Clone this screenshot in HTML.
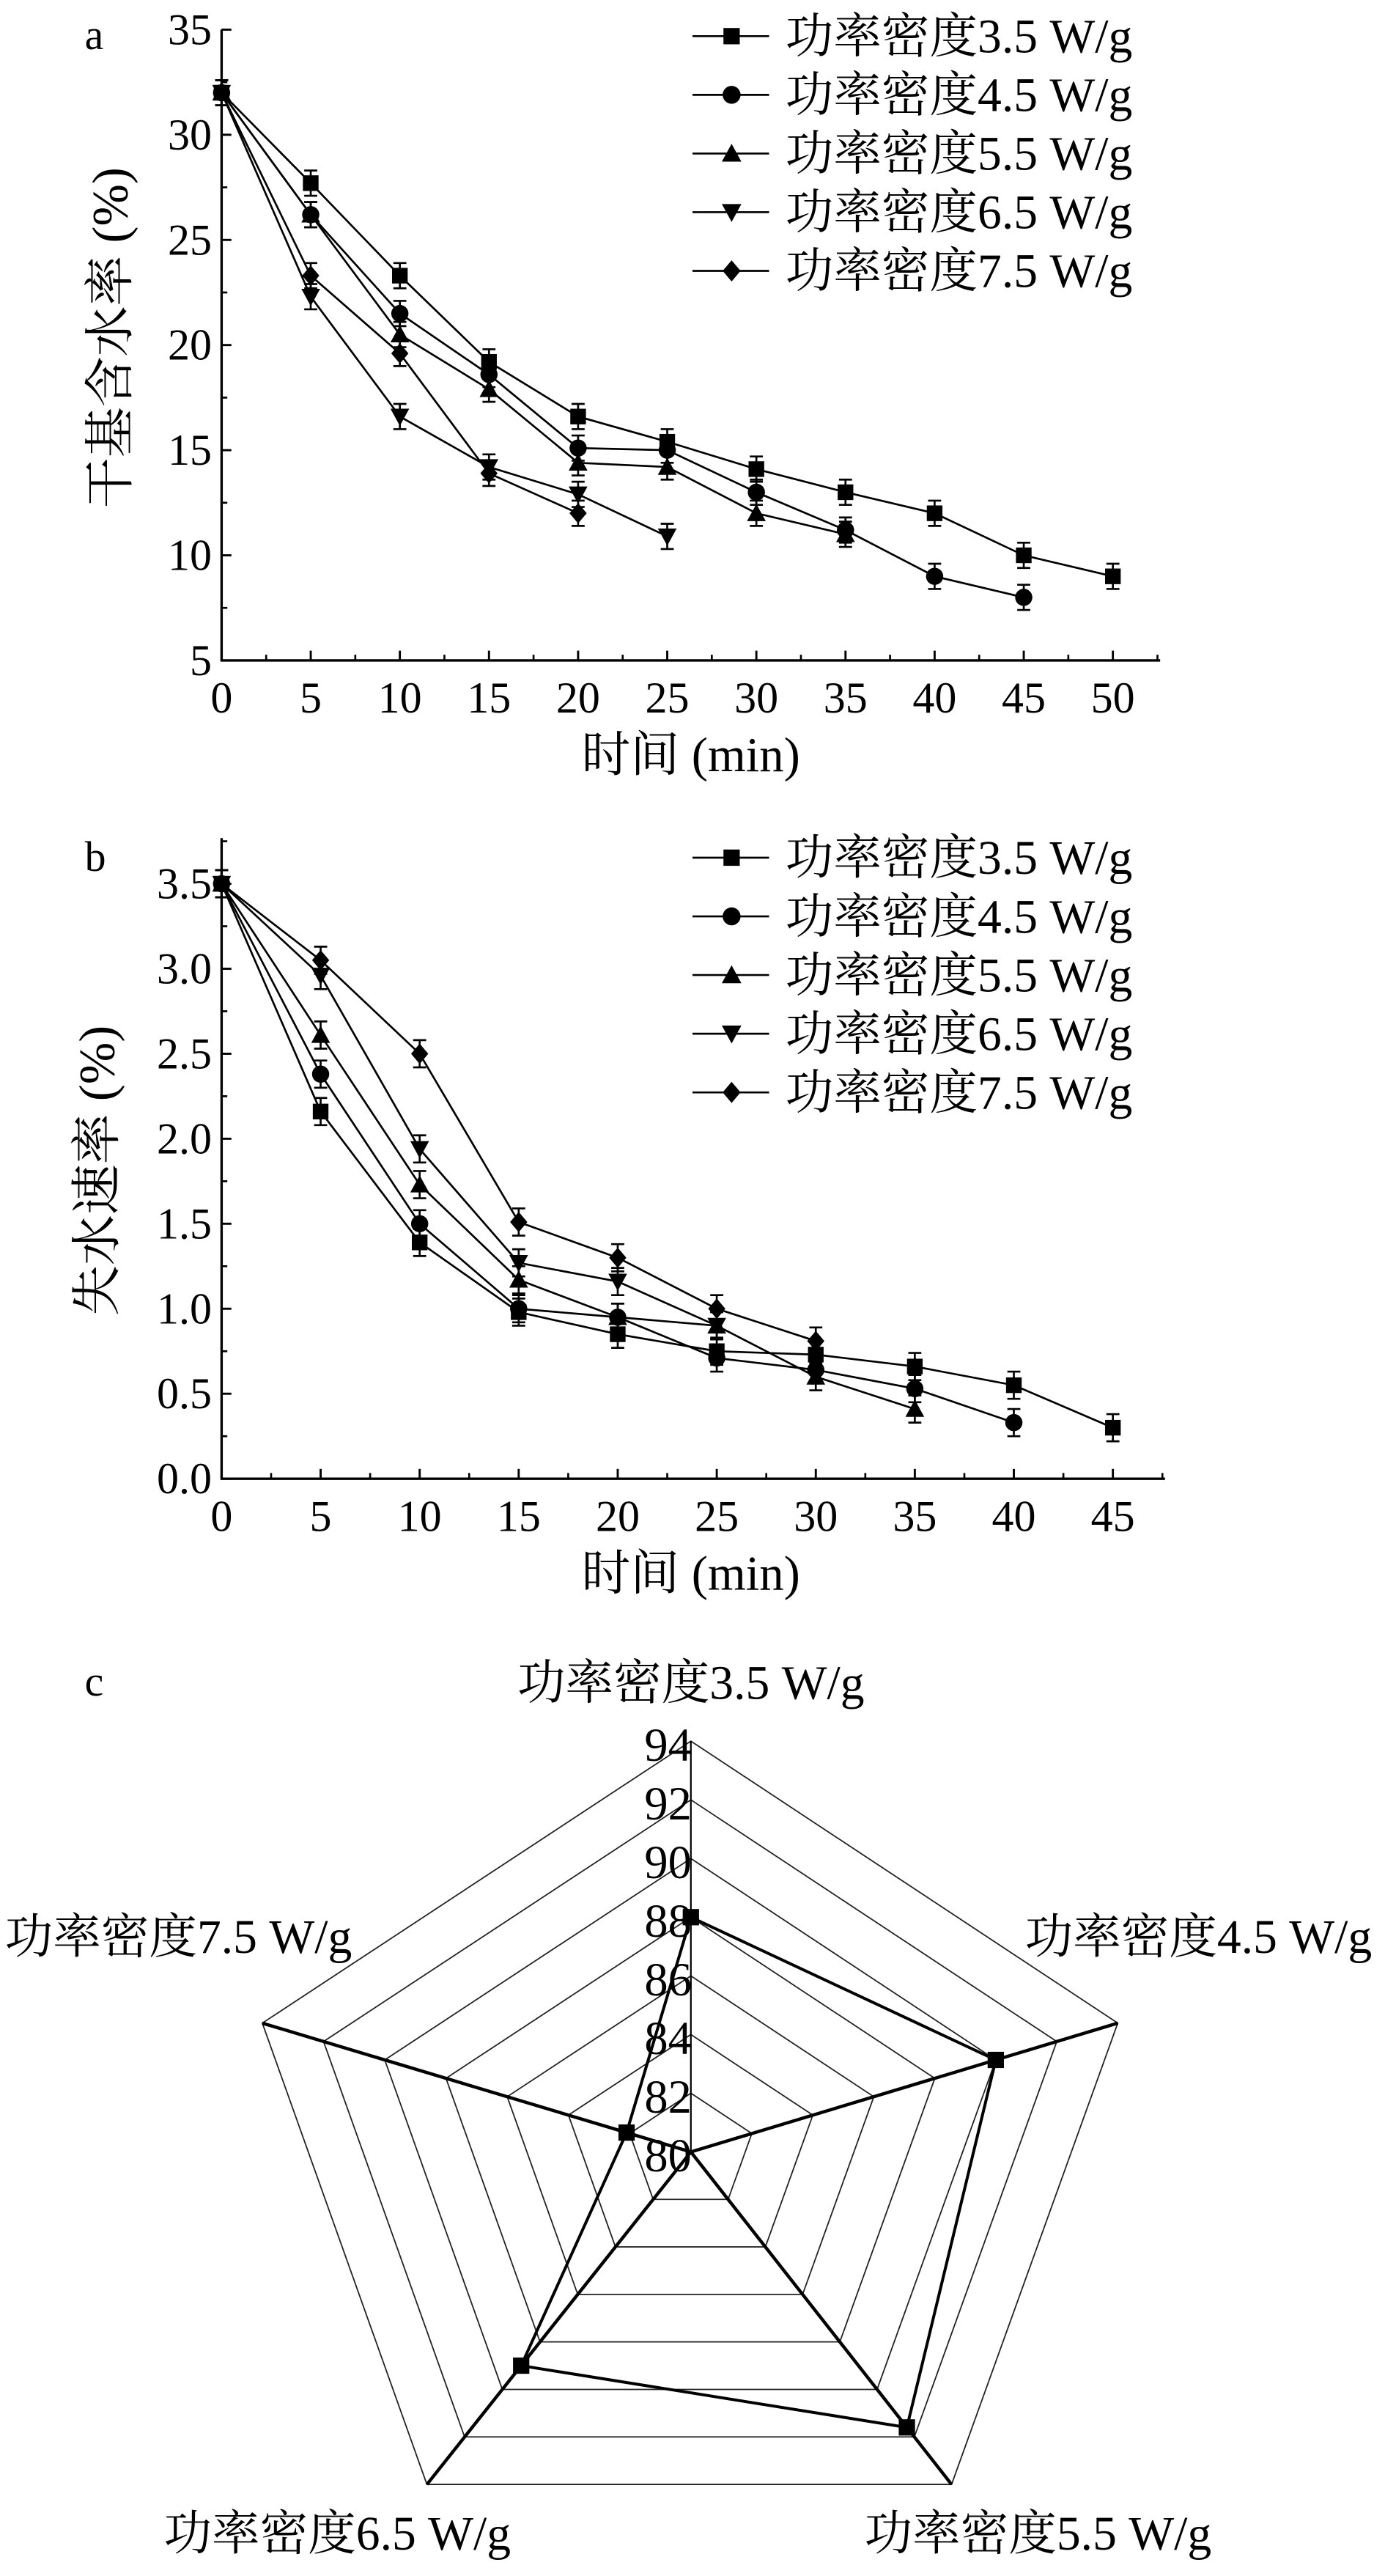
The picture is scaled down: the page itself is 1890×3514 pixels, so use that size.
<!DOCTYPE html>
<html><head><meta charset="utf-8"><style>
html,body{margin:0;padding:0;background:#fff}
svg{display:block}
text{font-family:"Liberation Serif","Noto Serif CJK SC","Noto Sans CJK SC",serif;fill:#000}
</style></head><body>
<svg id="fig" xmlns="http://www.w3.org/2000/svg" width="1890" height="3514" viewBox="0 0 850 1580">
<g id="ca"></g>
<g id="cb"></g>
<g id="cc"></g>
</svg>
<script>
const seriesNames = ["功率密度3.5 W/g","功率密度4.5 W/g","功率密度5.5 W/g","功率密度6.5 W/g","功率密度7.5 W/g"];
const markerTypes = ["square","circle","triangle","tridown","diamond"];
// chart a: moisture content vs time
const aTimes = [0,5,10,15,20,25,30,35,40,45,50];
const aS35 = [32,27.7,23.3,19.2,16.6,15.4,14.1,13.0,12.0,10.0,9.0];
const aS45 = [32,26.2,21.5,18.6,15.1,15.0,13.0,11.2,9.0,8.0];
const aS55 = [32,26.2,20.5,17.9,14.4,14.2,12.0,11.0];
const aS65 = [32,22.3,16.6,14.2,12.9,10.9];
const aS75 = [32,23.3,19.6,13.9,12.0];
const aErr = 0.6;
const aXTicks = [0,5,10,15,20,25,30,35,40,45,50];
const aYTicks = [5,10,15,20,25,30,35];
// chart b: water loss rate
const bTimes = [0,5,10,15,20,25,30,35,40,45];
const bS35 = [3.5,2.16,1.39,0.98,0.85,0.75,0.73,0.66,0.55,0.30];
const bS45 = [3.5,2.38,1.50,1.00,0.95,0.71,0.64,0.53,0.33];
const bS55 = [3.5,2.61,1.73,1.17,0.95,0.90,0.60,0.41];
const bS65 = [3.5,2.96,1.94,1.27,1.16,0.90];
const bS75 = [3.5,3.05,2.50,1.51,1.30,1.00,0.81];
const bErr = 0.08;
const bXTicks = [0,5,10,15,20,25,30,35,40,45];
const bYTicks = [0.0,0.5,1.0,1.5,2.0,2.5,3.0,3.5];
// chart c: radar
const cValues = [88,90,91.6,89,82.1];
const cRingTicks = [80,82,84,86,88,90,92,94];

const NS="http://www.w3.org/2000/svg";
function el(parent,tag,attrs,txt){const e=document.createElementNS(NS,tag);for(const k in attrs)e.setAttribute(k,attrs[k]);if(txt!==undefined)e.textContent=txt;parent.appendChild(e);return e;}

function marker(g,type,x,y,s){
  let e;
  if(type==="square") e=el(g,"rect",{x:x-s,y:y-s,width:2*s,height:2*s,fill:"#000"});
  else if(type==="circle") e=el(g,"circle",{cx:x,cy:y,r:s*1.1,fill:"#000"});
  else if(type==="triangle") e=el(g,"polygon",{points:`${x},${y-s*1.2} ${x-s*1.2},${y+s} ${x+s*1.2},${y+s}`,fill:"#000"});
  else if(type==="tridown") e=el(g,"polygon",{points:`${x},${y+s*1.2} ${x-s*1.2},${y-s} ${x+s*1.2},${y-s}`,fill:"#000"});
  else e=el(g,"polygon",{points:`${x},${y-s*1.3} ${x+s*1.1},${y} ${x},${y+s*1.3} ${x-s*1.1},${y}`,fill:"#000"});
  return e;
}

function lineChart(g,cfg){
  const {xs,ys,xT,yT,xMinor,yMinor,yTop,xEnd,series,times,err,legendY,panel,ytitle,titleX,fmt}=cfg;
  const ax=el(g,"path",{d:`M${xs(0)},${yTop} L${xs(0)},${ys(yT[0])} L${xEnd},${ys(yT[0])}`,fill:"none",stroke:"#000","stroke-width":1.5});
  
  
  xT.forEach(v=>{
    el(g,"line",{x1:xs(v),y1:ys(yT[0]),x2:xs(v),y2:ys(yT[0])-6,stroke:"#000","stroke-width":1.3});
    const t=el(g,"text",{x:xs(v),y:ys(yT[0])+32,"font-size":27,"text-anchor":"middle"},v);
    
    
  });
  xMinor.forEach(v=>el(g,"line",{x1:xs(v),y1:ys(yT[0]),x2:xs(v),y2:ys(yT[0])-3.5,stroke:"#000","stroke-width":1.2}));
  yT.forEach(v=>{
    el(g,"line",{x1:xs(0),y1:ys(v),x2:xs(0)+6,y2:ys(v),stroke:"#000","stroke-width":1.3});
    const t=el(g,"text",{x:xs(0)-6,y:ys(v)+9,"font-size":27,"text-anchor":"end"},fmt(v));
    
    
  });
  yMinor.forEach(v=>el(g,"line",{x1:xs(0),y1:ys(v),x2:xs(0)+3.5,y2:ys(v),stroke:"#000","stroke-width":1.2}));
  series.forEach((vals,i)=>{
    const sg=el(g,"g",{});
    
    
    el(sg,"polyline",{points:vals.map((v,j)=>`${xs(times[j])},${ys(v)}`).join(" "),fill:"none",stroke:"#000","stroke-width":1.2});
    vals.forEach((v,j)=>{
      const x=xs(times[j]),y1=ys(v+err),y2=ys(v-err);
      el(sg,"path",{d:`M${x},${y1} L${x},${y2} M${x-4},${y1} L${x+4},${y1} M${x-4},${y2} L${x+4},${y2}`,stroke:"#000","stroke-width":1.2,fill:"none"});
      const m=marker(sg,markerTypes[i],x,ys(v),4.8);
      
      
    });
  });
  seriesNames.forEach((n,i)=>{
    const lg=el(g,"g",{});
    
    
    const y=legendY+i*36;
    el(lg,"line",{x1:425,y1:y,x2:472,y2:y,stroke:"#000","stroke-width":1.2});
    marker(lg,markerTypes[i],449,y,5);
    el(lg,"text",{x:482,y:y+10,"font-size":29.5},n);
  });
  const p=el(g,"text",{x:52,y:legendY+8,"font-size":26},panel);
  
  
  const yt=el(g,"text",{x:0,y:0,"font-size":31,"text-anchor":"middle",transform:`translate(${titleX},${ytitle}) rotate(-90)`},cfg.yLabel);
  
  
  const xt=el(g,"text",{x:424,y:ys(yT[0])+68,"font-size":30,"text-anchor":"middle"},"时间 (min)");
  
  
}

const xa=v=>136+v*(547/50), ya=v=>405-(v-5)*(387/30);
lineChart(document.getElementById("ca"),{xs:xa,ys:ya,xT:aXTicks,yT:aYTicks,
 xMinor:[2.5,7.5,12.5,17.5,22.5,27.5,32.5,37.5,42.5,47.5,52.5],yMinor:[7.5,12.5,17.5,22.5,27.5,32.5],
 yTop:18,xEnd:712,series:[aS35,aS45,aS55,aS65,aS75],times:aTimes,err:aErr,legendY:22,panel:"a",
 ytitle:207,titleX:78,yLabel:"干基含水率 (%)",fmt:v=>v});
const xb=v=>136+v*(547/45), yb=v=>907-v*(365/3.5);
lineChart(document.getElementById("cb"),{xs:xb,ys:yb,xT:bXTicks,yT:bYTicks,
 xMinor:[2.5,7.5,12.5,17.5,22.5,27.5,32.5,37.5,42.5,47.5],yMinor:[0.25,0.75,1.25,1.75,2.25,2.75,3.25,3.75],
 yTop:514,xEnd:715,series:[bS35,bS45,bS55,bS65,bS75],times:bTimes,err:bErr,legendY:526,panel:"b",
 ytitle:718,titleX:70,yLabel:"失水速率 (%)",fmt:v=>v.toFixed(1)});

(function(){
  const g=document.getElementById("cc");
  const C=[424,1320];
  const V=[[424,1068],[686,1241],[584,1524],[262,1524],[161,1241]];
  const lo=cRingTicks[0],hi=cRingTicks[cRingTicks.length-1];
  const pt=(i,v)=>{const f=(v-lo)/(hi-lo);return [C[0]+(V[i][0]-C[0])*f,C[1]+(V[i][1]-C[1])*f];};
  cRingTicks.slice(1).forEach(t=>{
    const r=el(g,"polygon",{points:V.map((_,i)=>pt(i,t).join(",")).join(" "),fill:"none",stroke:"#222","stroke-width":0.8});
    
    
  });
  V.forEach((v,i)=>{
    const s=el(g,"line",{x1:C[0],y1:C[1],x2:v[0],y2:v[1],stroke:"#000","stroke-width":i===0?1:2});
    
    
  });
  cRingTicks.forEach(t=>{
    const y=pt(0,t)[1];
    const tl=el(g,"text",{x:410,y:y+12,"font-size":29,"text-anchor":"middle"},t);
    
    
  });
  const pts=cValues.map((v,i)=>pt(i,v));
  const poly=el(g,"polygon",{points:pts.map(p=>p.join(",")).join(" "),fill:"none",stroke:"#000","stroke-width":1.8});
  
  
  pts.forEach(p=>{
    const m=el(g,"rect",{x:p[0]-5,y:p[1]-5,width:10,height:10,fill:"#000"});
    
    
  });
  const labs=[[424,1042,"middle"],[842,1198,"end"],[637,1564,"middle"],[207,1564,"middle"],[3,1198,"start"]];
  labs.forEach((l,i)=>{
    const t=el(g,"text",{x:l[0],y:l[1],"font-size":29.5,"text-anchor":l[2]},seriesNames[i]);
    
    
  });
  const p=el(g,"text",{x:52,y:1040,"font-size":26},"c");
  
  
})();
</script>
</body></html>
